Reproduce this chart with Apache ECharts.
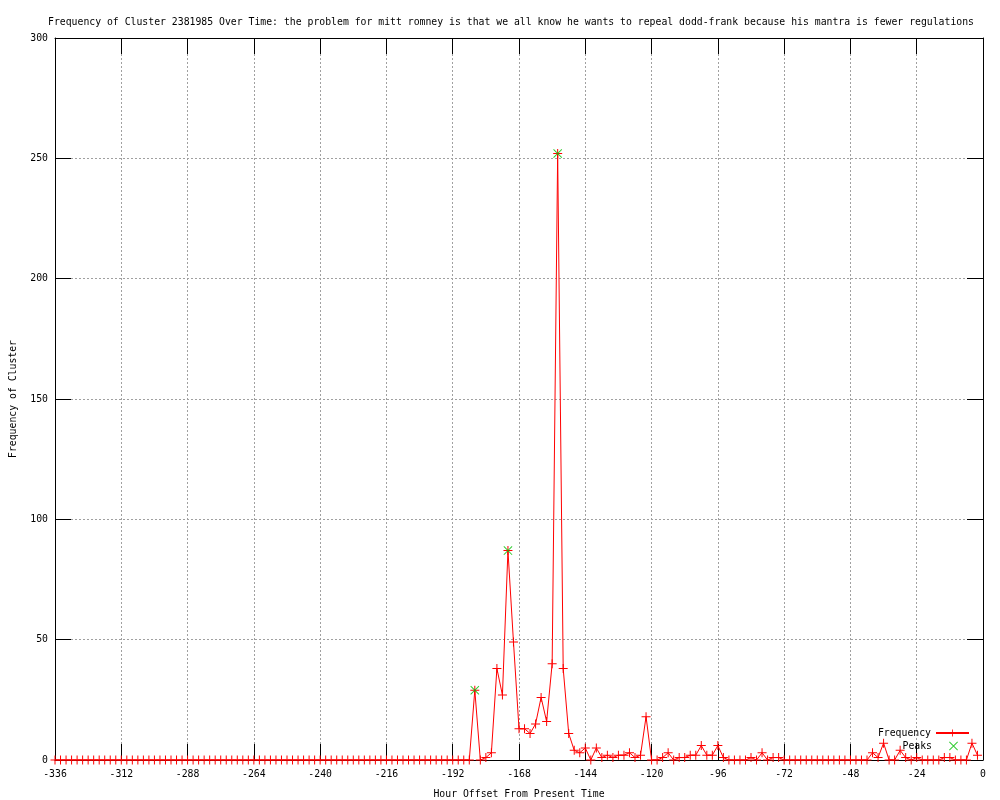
<!DOCTYPE html>
<html>
<head>
<meta charset="utf-8">
<script src="https://cdn.jsdelivr.net/npm/echarts@6/dist/echarts.min.js"></script>
<style>
html,body{margin:0;padding:0;background:#fff;}
#chart{width:1000px;height:800px;}
</style>
</head>
<body>
<div id="chart"></div>
<script>
// Sampling grid of the series (hours from present), one point every 2 hours
const startHour = -336;
const stepHours = 2;

// Frequency values, one per 2-hour bin from -336 to -2
const frequencyValues = [
  0,0,0,0,0,0,0,0,0,0,0,0,   // -336 .. -314
  0,0,0,0,0,0,0,0,0,0,0,0,   // -312 .. -290
  0,0,0,0,0,0,0,0,0,0,0,0,   // -288 .. -266
  0,0,0,0,0,0,0,0,0,0,0,0,   // -264 .. -242
  0,0,0,0,0,0,0,0,0,0,0,0,   // -240 .. -218
  0,0,0,0,0,0,0,0,0,0,0,0,   // -216 .. -194
  0,0,0,0,                   // -192 .. -186
  29,0,1,3,38,27,87,49,      // -184 .. -170
  13,13,11,15,26,16,40,252,  // -168 .. -154
  38,11,4,3,5,0,5,1,         // -152 .. -138
  2,1,2,2,3,1,2,18,          // -136 .. -122
  0,0,1,3,0,1,1,2,           // -120 .. -106
  2,6,2,2,6,1,0,0,           // -104 .. -90
  0,0,1,0,3,0,1,1,           // -88 .. -74
  0,0,0,0,0,0,0,0,0,0,0,0,   // -72 .. -50
  0,0,0,0,                   // -48 .. -42
  3,1,7,0,0,4,1,0,           // -40 .. -26
  1,0,0,0,0,1,1,0,           // -24 .. -10
  0,0,7,2                    // -8 .. -2
];

const peakHours = [-184, -172, -154];
const peakValues = [29, 87, 252];

const xTicks = { min: -336, max: 0, interval: 24 };
const yTicks = { min: 0, max: 300, interval: 50 };

const titleText = 'Frequency of Cluster 2381985 Over Time: the problem for mitt romney is that we all know he wants to repeal dodd-frank because his mantra is fewer regulations';
const xName = 'Hour Offset From Present Time';
const yName = 'Frequency of Cluster';

const freqData = frequencyValues.map((v, i) => [startHour + i * stepHours, v]);
const peakData = peakHours.map((h, i) => [h, peakValues[i]]);

const FONT = 'DejaVu Sans Mono';
const FS = 9.8;
const plusPath = 'path://M4,0H5V4H9V5H5V9H4V5H0V4H4Z';
const crossPath = 'path://M0,0.7L0.7,0L9,8.3L8.3,9Z M8.3,0L9,0.7L0.7,9L0,8.3Z';

const gridLine = { show: true, lineStyle: { color: '#a0a0a0', type: [2, 2], width: 1 } };
const tickStyle = { show: true, inside: true, length: 16, lineStyle: { color: '#000', width: 1 } };
const axisLineBlack = { show: true, onZero: false, lineStyle: { color: '#000', width: 1 } };

const chart = echarts.init(document.getElementById('chart'), null, { renderer: 'canvas' });
chart.setOption({
  backgroundColor: '#fff',
  animation: false,
  textStyle: { fontFamily: FONT, fontSize: FS, color: '#000' },
  title: {
    text: titleText,
    left: 506, top: 12, textAlign: 'center',
    textStyle: { fontFamily: FONT, fontSize: FS, fontWeight: 'normal', color: '#000' }
  },
  grid: { left: 55, right: 17, top: 38, bottom: 40, containLabel: false, outerBoundsMode: 'none' },
  legend: [
    {
      data: ['Frequency'], orient: 'vertical', right: 30, top: 728, padding: 0,
      align: 'right', itemWidth: 33, itemHeight: 9,
      textStyle: { fontFamily: FONT, fontSize: FS, color: '#000' }
    },
    {
      data: ['Peaks'], orient: 'vertical', right: 42, top: 741, padding: 0,
      align: 'right', itemWidth: 33, itemHeight: 9,
      textStyle: { fontFamily: FONT, fontSize: FS, color: '#000' }
    }
  ],
  xAxis: [
    {
      type: 'value', position: 'bottom',
      min: xTicks.min, max: xTicks.max, interval: xTicks.interval,
      name: xName, nameLocation: 'middle', nameGap: 29,
      nameTextStyle: { fontFamily: FONT, fontSize: FS, color: '#000' },
      axisLine: axisLineBlack, axisTick: tickStyle,
      axisLabel: { show: true, margin: 9, fontFamily: FONT, fontSize: FS, color: '#000' },
      splitLine: gridLine
    },
    {
      type: 'value', position: 'top',
      min: xTicks.min, max: xTicks.max, interval: xTicks.interval,
      axisLine: axisLineBlack, axisTick: tickStyle,
      axisLabel: { show: false }, splitLine: { show: false }
    }
  ],
  yAxis: [
    {
      type: 'value', position: 'left',
      min: yTicks.min, max: yTicks.max, interval: yTicks.interval,
      name: yName, nameLocation: 'middle', nameGap: 37,
      nameTextStyle: { fontFamily: FONT, fontSize: FS, color: '#000' },
      axisLine: axisLineBlack, axisTick: tickStyle,
      axisLabel: { show: true, margin: 7, fontFamily: FONT, fontSize: FS, color: '#000' },
      splitLine: gridLine
    },
    {
      type: 'value', position: 'right',
      min: yTicks.min, max: yTicks.max, interval: yTicks.interval,
      axisLine: axisLineBlack, axisTick: tickStyle,
      axisLabel: { show: false }, splitLine: { show: false }
    }
  ],
  series: [
    {
      name: 'Frequency', type: 'line', data: freqData,
      xAxisIndex: 0, yAxisIndex: 0,
      showAllSymbol: true, symbol: plusPath, symbolSize: 9,
      lineStyle: { color: '#ff0000', width: 1 },
      itemStyle: { color: '#ff0000', borderWidth: 0 },
      emphasis: { disabled: true }, z: 3
    },
    {
      name: 'Peaks', type: 'scatter', data: peakData,
      xAxisIndex: 0, yAxisIndex: 0,
      symbol: crossPath, symbolSize: 9,
      itemStyle: { color: '#00c000', borderWidth: 0 },
      emphasis: { disabled: true }, z: 4
    }
  ]
});
</script>
</body>
</html>
